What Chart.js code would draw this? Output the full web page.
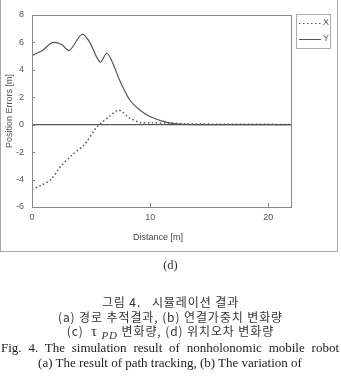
<!DOCTYPE html>
<html>
<head>
<meta charset="utf-8">
<script src="https://cdn.jsdelivr.net/npm/chart.js@4"></script>
<style>
    body { margin: 0; width: 341px; height: 377px; overflow: hidden; background: #fff; position: relative; }
    #frame { position: absolute; left: 0; top: -1px; width: 338px; height: 253px; border: 1px solid #a8a8a8; box-sizing: border-box; }
    #wrap { position: absolute; left: 0; top: 0; width: 341px; height: 255px; }
    .lbl { position: absolute; white-space: nowrap; color: #444; line-height: 14px; }
    .ko { font-family: "Noto Sans CJK KR", sans-serif; font-size: 12px; letter-spacing: 0.9px; color: #333; left: 0; width: 341px; text-align: center; }
    .en { font-family: "Liberation Serif", serif; font-size: 13px; color: #222; left: 1px; width: 338px; text-align: justify; text-align-last: justify; }
</style>
</head>
<body>
<div id="frame"></div>
<div id="wrap"><canvas id="chart"></canvas></div>
<div class="lbl" style="left:133px; top:232px; font-family:'Liberation Sans',Arial,sans-serif; font-size:9px; line-height:11px;">Distance [m]</div>
<div class="lbl" style="left:0; width:341px; text-align:center; top:258px; font-family:'Liberation Serif',serif; font-size:12.5px; color:#333;">(d)</div>
<div class="lbl ko" style="top:295px;">그림 4.&nbsp;&nbsp;&nbsp;시뮬레이션 결과</div>
<div class="lbl ko" style="top:310px;">(a) 경로 추적결과, (b) 연결가중치 변화량</div>
<div class="lbl ko" style="top:324px;">(c)&nbsp;&nbsp;<span style="font-family:'Liberation Serif',serif;font-size:15px;">τ</span><sub style="font-family:'Liberation Serif',serif;font-style:italic;font-size:11px;"> PD</sub> 변화량, (d) 위치오차 변화량</div>
<div class="lbl en" style="top:341px;">Fig. 4. The simulation result of nonholonomic mobile robot</div>
<div class="lbl en" style="top:356px; text-align:center; text-align-last:center;">(a) The result of path tracking, (b) The variation of</div>
<script>
// distance along the path [m]
const distX = [0, 0.88, 1.59, 2.44, 3.43, 4.43, 5.42, 5.85, 6.55, 7.35, 8.26, 9.1, 10.1, 11.4, 13, 16, 22];
const errX = [-4.72, -4.38, -4.0, -3.03, -2.18, -1.45, -0.24, 0.12, 0.6, 1.06, 0.49, 0.17, 0.14, 0.12, 0.06, 0.04, 0.02];

const distY = [0, 0.88, 1.73, 2.5, 3.15, 4.23, 4.85, 5.76, 6.33, 6.84, 7.4, 8.26, 9.1, 9.96, 11.4, 12.5, 14, 22];
const errY = [5.05, 5.42, 5.99, 5.85, 5.41, 6.6, 6.06, 4.56, 5.21, 4.48, 3.27, 1.82, 1.09, 0.6, 0.17, 0.04, 0.01, 0];

const xTicks = [0, 10, 20];
const yTicks = [-6, -4, -2, 0, 2, 4, 6, 8];

const toPoints = (xs, ys) => xs.map((x, idx) => ({ x: x, y: ys[idx] }));

const tickFont = { family: "'Liberation Sans', Arial, sans-serif", size: 9 };
const axisGray = "#888";

// box around plot, inner tick marks, boxed legend
const framePlugin = {
    id: "frame",
    afterDraw: (chart) => {
        const ctx = chart.ctx;
        const a = chart.chartArea;
        const xs = chart.scales.x;
        const ys = chart.scales.y;
        ctx.save();
        ctx.strokeStyle = axisGray;
        ctx.lineWidth = 1;
        ctx.strokeRect(a.left + 0.5, a.top + 0.5, a.right - a.left - 1, a.bottom - a.top);
        ctx.beginPath();
        xs.ticks.forEach((t) => {
            const px = Math.round(xs.getPixelForValue(t.value)) + 0.5;
            ctx.moveTo(px, a.bottom);
            ctx.lineTo(px, a.bottom - 4);
        });
        ys.ticks.forEach((t) => {
            const py = Math.round(ys.getPixelForValue(t.value)) + 0.5;
            ctx.moveTo(a.left, py);
            ctx.lineTo(a.left + 3, py);
        });
        ctx.stroke();

        // legend
        const lx = 296, ly = 14, lw = 34, lh = 34;
        ctx.strokeStyle = "#aaa";
        ctx.strokeRect(lx + 0.5, ly + 0.5, lw, lh);
        ctx.font = "9px 'Liberation Sans', Arial, sans-serif";
        ctx.textAlign = "right";
        ctx.textBaseline = "middle";
        chart.data.datasets.forEach((ds, idx) => {
            const yy = ly + 9 + idx * 16;
            ctx.strokeStyle = ds.borderColor;
            ctx.lineWidth = 1;
            ctx.setLineDash(ds.borderDash || []);
            ctx.beginPath();
            ctx.moveTo(lx + 3, yy + 0.5);
            ctx.lineTo(lx + 25, yy + 0.5);
            ctx.stroke();
            ctx.setLineDash([]);
            ctx.fillStyle = "#555";
            ctx.fillText(ds.label, lx + lw - 1, yy);
        });
        ctx.restore();
    }
};

new Chart(document.getElementById("chart"), {
    type: "line",
    data: {
        datasets: [
            {
                label: "X",
                data: toPoints(distX, errX),
                borderColor: "#555",
                borderWidth: 1.5,
                borderDash: [1.5, 2.5],
                pointRadius: 0,
                tension: 0.3,
                fill: false
            },
            {
                label: "Y",
                data: toPoints(distY, errY),
                borderColor: "#555",
                borderWidth: 1.2,
                pointRadius: 0,
                tension: 0.3,
                fill: false
            }
        ]
    },
    options: {
        responsive: true,
        maintainAspectRatio: false,
        animation: false,
        events: [],
        layout: { padding: { left: 0, top: 15, right: 49, bottom: 0 } },
        plugins: {
            legend: { display: false },
            tooltip: { enabled: false }
        },
        scales: {
            x: {
                type: "linear",
                min: 0,
                max: 22,
                afterBuildTicks: (s) => { s.ticks = xTicks.map((v) => ({ value: v })); },
                afterFit: (s) => { s.height = 48; },
                border: { display: false },
                grid: { display: false, drawTicks: false },
                ticks: { font: tickFont, color: "#555", padding: 5 }
            },
            y: {
                type: "linear",
                min: -6,
                max: 8,
                afterBuildTicks: (s) => { s.ticks = yTicks.map((v) => ({ value: v })); },
                afterFit: (s) => { s.width = 32; },
                border: { display: false },
                grid: {
                    drawTicks: false,
                    lineWidth: 1.2,
                    color: (c) => (c.tick && c.tick.value === 0 ? "#555" : "transparent")
                },
                ticks: { font: tickFont, color: "#555", padding: 8 },
                title: {
                    display: true,
                    text: "Position Errors [m]",
                    font: tickFont,
                    color: "#555",
                    padding: { top: 4, bottom: 0 }
                }
            }
        }
    },
    plugins: [framePlugin]
});
</script>
</body>
</html>
